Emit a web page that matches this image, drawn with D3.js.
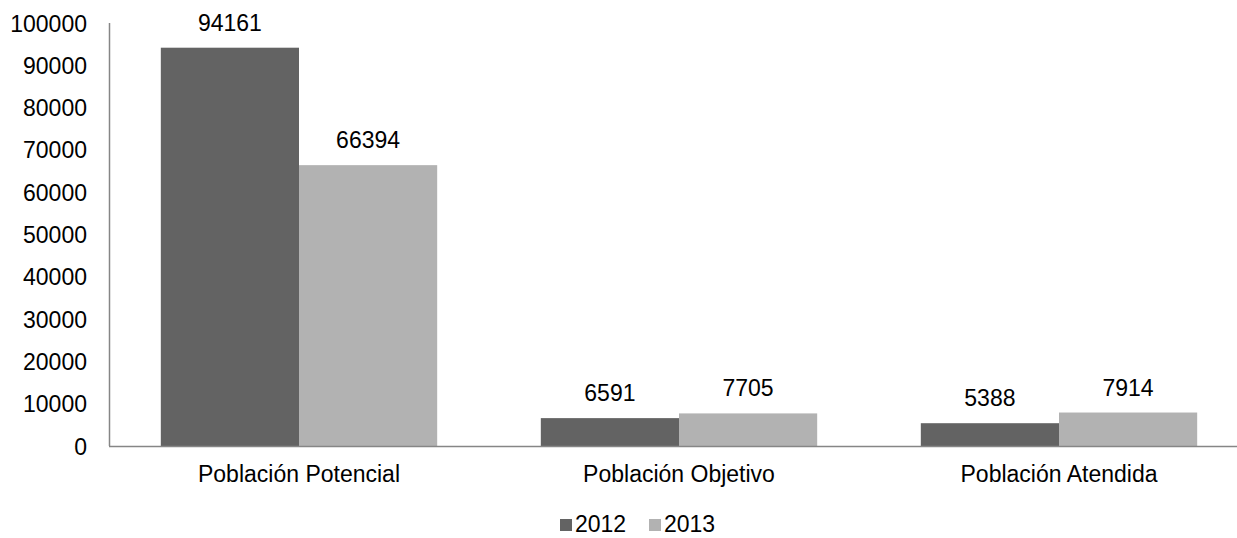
<!DOCTYPE html>
<html><head><meta charset="utf-8">
<script src="https://cdn.jsdelivr.net/npm/d3@7"></script>
<style>body{margin:0;background:#fff}svg{display:block}text{font-family:"Liberation Sans",Arial,sans-serif;fill:#000}</style>
</head><body>
<svg id="c" width="1237" height="538"></svg>
<script>
const categories = ["Población Potencial", "Población Objetivo", "Población Atendida"];
const seriesNames = ["2012", "2013"];
const values2012 = [94161, 6591, 5388];
const values2013 = [66394, 7705, 7914];
const yTicks = [0, 10000, 20000, 30000, 40000, 50000, 60000, 70000, 80000, 90000, 100000];
const colors = ["#636363", "#b2b2b2"];

const FS = "23px";
const svg = d3.select("#c");
const x0 = 109, yBase = 446, yTop = 23;
const x = d3.scaleBand().domain(categories).range([x0, x0 + 1140]).paddingInner(0).paddingOuter(0);
const xs = d3.scaleBand().domain(seriesNames).range([0, x.bandwidth()]).paddingInner(0).paddingOuter(0.375);
const y = d3.scaleLinear().domain([0, 100000]).range([yBase, yTop]);

const data = categories.map((c, i) => ({cat: c, vals: [values2012[i], values2013[i]]}));

// y axis labels
const yAxis = d3.axisLeft(y).tickValues(yTicks).tickSize(0).tickPadding(22).tickFormat(d3.format("d"));
const ga = svg.append("g").attr("transform", `translate(${x0},0)`).call(yAxis);
ga.select(".domain").remove();
ga.attr("font-size", null).attr("font-family", null);
ga.selectAll("text").style("font-size", FS).style("font-family", "Liberation Sans, Arial, sans-serif").attr("dy", "0.35em");

// bars
data.forEach(d => {
  d.vals.forEach((v, j) => {
    const bx = x(d.cat) + xs(seriesNames[j]);
    svg.append("rect").attr("x", bx).attr("y", y(v)).attr("width", xs.bandwidth()).attr("height", yBase - y(v)).attr("fill", colors[j]);
    svg.append("text").attr("x", bx + xs.bandwidth() / 2).attr("y", y(v) - 17).attr("text-anchor", "middle").style("font-size", FS).text(v);
  });
});

// axis lines
svg.append("line").attr("x1", x0).attr("x2", 1237).attr("y1", yBase + 0.5).attr("y2", yBase + 0.5).attr("stroke", "#868686").attr("stroke-width", 1.5);
svg.append("line").attr("x1", x0 + 0.5).attr("x2", x0 + 0.5).attr("y1", yTop).attr("y2", yBase).attr("stroke", "#868686").attr("stroke-width", 1.5);

// x labels
const xAxis = d3.axisBottom(x).tickSize(0).tickPadding(20);
const gx = svg.append("g").attr("transform", `translate(0,${yBase})`).call(xAxis);
gx.select(".domain").remove();
gx.attr("font-size", null).attr("font-family", null);
gx.selectAll("text").style("font-size", FS).style("font-family", "Liberation Sans, Arial, sans-serif").attr("dy", "0.71em");

// legend
const leg = [{x: 560, name: seriesNames[0], c: colors[0]}, {x: 649, name: seriesNames[1], c: colors[1]}];
leg.forEach(l => {
  svg.append("rect").attr("x", l.x).attr("y", 519).attr("width", 12).attr("height", 12).attr("fill", l.c);
  svg.append("text").attr("x", l.x + 15).attr("y", 532).style("font-size", FS).text(l.name);
});
</script>
</body></html>
